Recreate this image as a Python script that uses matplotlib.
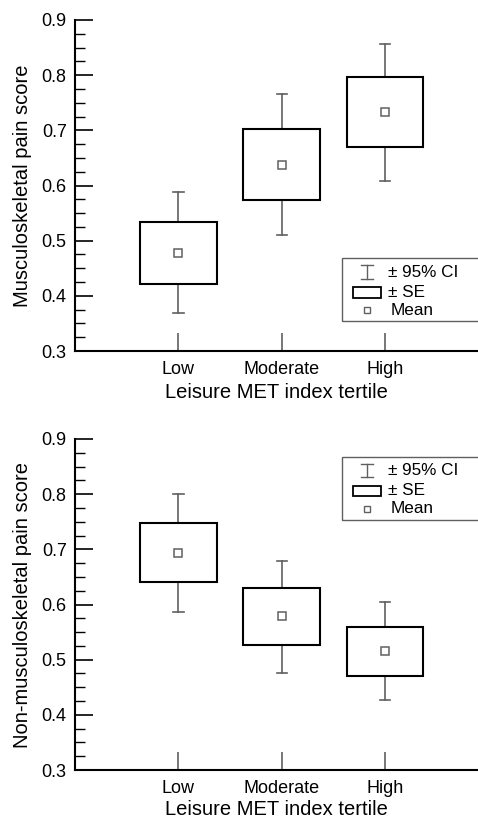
import numpy as np
import matplotlib
matplotlib.use("Agg")
import matplotlib.pyplot as plt
from matplotlib.patches import Rectangle
from matplotlib.ticker import MultipleLocator, FormatStrFormatter

plt.rcParams['font.family'] = ['Liberation Sans', 'DejaVu Sans']

# данные
tertiles = ["Low", "Moderate", "High"]

msk_mean = [0.478, 0.638, 0.734]
msk_se_lo = [0.422, 0.573, 0.670]
msk_se_hi = [0.533, 0.703, 0.796]
msk_ci_lo = [0.369, 0.510, 0.608]
msk_ci_hi = [0.588, 0.766, 0.856]

non_mean = [0.693, 0.579, 0.516]
non_se_lo = [0.640, 0.527, 0.470]
non_se_hi = [0.748, 0.630, 0.560]
non_ci_lo = [0.586, 0.476, 0.427]
non_ci_hi = [0.800, 0.679, 0.604]

gray = "#606060"
box_w = 0.74
cap_w = 0.10


def draw_panel(ax, mean, se_lo, se_hi, ci_lo, ci_hi, ylabel, leg_y, xpad):
    x = np.arange(1, len(mean) + 1)
    for xi, m, sl, sh, cl, ch in zip(x, mean, se_lo, se_hi, ci_lo, ci_hi):
        # усы до 95% ДИ
        ax.plot([xi, xi], [sh, ch], color=gray, lw=1.2)
        ax.plot([xi, xi], [cl, sl], color=gray, lw=1.2)
        ax.plot([xi - cap_w / 2, xi + cap_w / 2], [ch, ch], color=gray, lw=1.2)
        ax.plot([xi - cap_w / 2, xi + cap_w / 2], [cl, cl], color=gray, lw=1.2)
        # прямоугольник +- SE
        ax.add_patch(Rectangle((xi - box_w / 2, sl), box_w, sh - sl,
                               facecolor="white", edgecolor="black", lw=1.5, zorder=3))
    ax.plot(x, mean, "s", mfc="white", mec=gray, ms=5.5, mew=1.1, zorder=4)

    ax.set_xlim(0, 3.9)
    ax.set_ylim(0.3, 0.9)
    ax.set_xticks(x)
    ax.set_xticklabels(tertiles)
    ax.yaxis.set_major_locator(MultipleLocator(0.1))
    ax.yaxis.set_minor_locator(MultipleLocator(0.025))
    ax.yaxis.set_major_formatter(FormatStrFormatter("%.1f"))
    ax.tick_params(axis="y", which="major", direction="in", length=13, width=1.2,
                   labelsize=13, pad=6)
    ax.tick_params(axis="y", which="minor", direction="in", length=7, width=1.0)
    ax.tick_params(axis="x", direction="in", length=13, width=1.2, labelsize=13,
                   pad=7, color=gray)
    for s in ("top", "right"):
        ax.spines[s].set_visible(False)
    for s in ("left", "bottom"):
        ax.spines[s].set_linewidth(1.5)
    ax.set_xlabel("Leisure MET index tertile", fontsize=14.5, labelpad=xpad)
    ax.set_ylabel(ylabel, fontsize=14.5, labelpad=7)

    # легенда вручную
    t = ax.transAxes
    ax.add_patch(Rectangle((0.6625, leg_y), 0.5, 0.19, transform=t, fill=False,
                           edgecolor=gray, lw=1.0, clip_on=False))
    r1, r2, r3 = leg_y + 0.148, leg_y + 0.087, leg_y + 0.033
    xs = 0.724
    ax.plot([xs, xs], [r1 - 0.02, r1 + 0.02], color=gray, lw=1.0, transform=t)
    ax.plot([xs - 0.015, xs + 0.015], [r1 + 0.02] * 2, color=gray, lw=1.0, transform=t)
    ax.plot([xs - 0.015, xs + 0.015], [r1 - 0.02] * 2, color=gray, lw=1.0, transform=t)
    ax.add_patch(Rectangle((xs - 0.035, r2 - 0.016), 0.07, 0.032, transform=t,
                           facecolor="white", edgecolor="black", lw=1.3))
    ax.plot([xs], [r3], "s", mfc="white", mec=gray, ms=5, mew=1.0, transform=t)
    ax.text(0.777, r1, "\u00b1 95% CI", transform=t, va="center", fontsize=12.3)
    ax.text(0.777, r2, "\u00b1 SE", transform=t, va="center", fontsize=12.3)
    ax.text(0.784, r3, "Mean", transform=t, va="center", fontsize=12.3)


fig = plt.figure(figsize=(4.78, 8.19), dpi=100)
ax1 = fig.add_axes([0.157, 0.5714, 0.843, 0.4042])
ax2 = fig.add_axes([0.157, 0.0598, 0.843, 0.4042])

draw_panel(ax1, msk_mean, msk_se_lo, msk_se_hi, msk_ci_lo, msk_ci_hi,
           "Musculoskeletal pain score", 0.0906, 4)
draw_panel(ax2, non_mean, non_se_lo, non_se_hi, non_ci_lo, non_ci_hi,
           "Non-musculoskeletal pain score", 0.756, 2)

fig.savefig("out.png", dpi=100)
